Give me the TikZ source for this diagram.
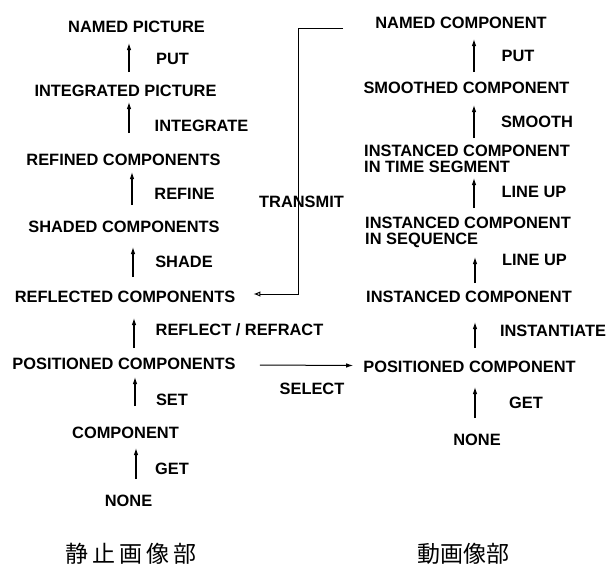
\documentclass[tikz,border=0pt]{standalone}
\usepackage{fontspec}
\setmainfont{Liberation Sans}
\newfontfamily\cjk{Noto Sans CJK JP}
\usetikzlibrary{arrows.meta}
\begin{document}
\begin{tikzpicture}[x=1pt,y=-1pt,
  lbl/.style={inner sep=0pt, font=\fontsize{16.4}{16}\selectfont\bfseries},
  two/.style={lbl, align=left, anchor=west},
  up/.style={line width=1.1pt, -{Latex[length=7pt,width=4.5pt]}},
  lnk/.style={line width=1pt},
  title/.style={inner sep=0pt, font=\cjk\fontsize{23}{23}\selectfont}]
\useasboundingbox (0,0) rectangle (608,565);

% left column
\node[lbl] (np)  at (136.5,27)  {NAMED PICTURE};
\node[lbl] (put1) at (172.5,59) {PUT};
\node[lbl] (ip)  at (125.5,91)  {INTEGRATED PICTURE};
\node[lbl] (integ) at (201.5,126) {INTEGRATE};
\node[lbl] (rfc) at (123.5,159.5) {REFINED COMPONENTS};
\node[lbl] (refine) at (184.5,194) {REFINE};
\node[lbl] (shc) at (124,227) {SHADED COMPONENTS};
\node[lbl] (shade) at (184,262) {SHADE};
\node[lbl] (rc)  at (125,297) {REFLECTED COMPONENTS};
\node[lbl] (refl) at (239.5,330) {REFLECT / REFRACT};
\node[lbl] (pcs) at (124,363.5) {POSITIONED COMPONENTS};
\node[lbl] (set) at (172,399.5) {SET};
\node[lbl] (comp) at (125.5,432.5) {COMPONENT};
\node[lbl] (get1) at (172,468.5) {GET};
\node[lbl] (none1) at (128.5,501) {NONE};
\node[title] (jp1) at (131,554) {\addfontfeature{LetterSpace=17}静止画像部};

% right column
\node[lbl] (nc)  at (461,22.5) {NAMED COMPONENT};
\node[lbl] (put2) at (518,56) {PUT};
\node[lbl] (smc) at (466.5,88) {SMOOTHED COMPONENT};
\node[lbl] (smooth) at (537,122) {SMOOTH};
\node[two] (its) at (364,159) {INSTANCED COMPONENT\\IN TIME SEGMENT};
\node[lbl] (lineup1) at (534,192) {LINE UP};
\node[two] (isq) at (365,232.5) {INSTANCED COMPONENT\\IN SEQUENCE};
\node[lbl] (lineup2) at (534.5,260) {LINE UP};
\node[lbl] (ic)  at (469,296.5) {INSTANCED COMPONENT};
\node[lbl] (inst) at (553,331) {INSTANTIATE};
\node[lbl] (pc)  at (469.5,366.5) {POSITIONED COMPONENT};
\node[lbl] (get2) at (526,402.5) {GET};
\node[lbl] (none2) at (477,440) {NONE};
\node[title] (jp2) at (463,554) {動画像部};

% middle labels
\node[lbl] (transmit) at (301.5,202) {TRANSMIT};
\node[lbl] (select) at (312,389) {SELECT};

% arrow x positions
\coordinate (a1) at (129,0);
\coordinate (a2) at (129,0);
\coordinate (a3) at (132,0);
\coordinate (a4) at (133,0);
\coordinate (a5) at (134,0);
\coordinate (a6) at (135,0);
\coordinate (a7) at (136,0);
\coordinate (b1) at (474,0);
\coordinate (b2) at (474,0);
\coordinate (b3) at (474,0);
\coordinate (b4) at (475,0);
\coordinate (b5) at (475,0);
\coordinate (b6) at (475,0);

% left arrows
\draw[up,shorten <=19pt,shorten >=16pt] (ip.center -| a1) -- (np.center -| a1);
\draw[up,shorten <=26.5pt,shorten >=11pt] (rfc.center -| a2) -- (ip.center -| a2);
\draw[up,shorten <=22pt,shorten >=12.5pt] (shc.center -| a3) -- (rfc.center -| a3);
\draw[up,shorten <=20pt,shorten >=20pt] (rc.center -| a4) -- (shc.center -| a4);
\draw[up,shorten <=15.5pt,shorten >=21pt] (pcs.center -| a5) -- (rc.center -| a5);
\draw[up,shorten <=26.5pt,shorten >=13.5pt] (comp.center -| a6) -- (pcs.center -| a6);
\draw[up,shorten <=22pt,shorten >=15.5pt] (none1.center -| a7) -- (comp.center -| a7);

% right arrows
\draw[up,shorten <=16pt,shorten >=16.5pt] (smc.center -| b1) -- (nc.center -| b1);
\draw[up,shorten <=21pt,shorten >=17pt] (its.center -| b2) -- (smc.center -| b2);
\draw[up,shorten <=24.5pt,shorten >=19pt] (isq.center -| b3) -- (its.center -| b3);
\draw[up,shorten <=13.5pt,shorten >=24.5pt] (ic.center -| b4) -- (isq.center -| b4);
\draw[up,shorten <=18.5pt,shorten >=25.5pt] (pc.center -| b5) -- (ic.center -| b5);
\draw[up,shorten <=22pt,shorten >=20.5pt] (none2.center -| b6) -- (pc.center -| b6);

% transmit connector
\coordinate (tcorner) at (298,294);
\draw[lnk,-{Latex[open,length=7pt,width=5.5pt]}]
  ([xshift=-32pt]nc.south west) -| (tcorner) -- ([xshift=18pt,yshift=3pt]rc.east);

% select connector
\draw[lnk,-{Latex[length=7pt,width=4.5pt]}]
  ([xshift=24pt,yshift=-1.5pt]pcs.east) -- ([xshift=-10pt,yshift=1pt]pc.west);
\end{tikzpicture}
\end{document}
